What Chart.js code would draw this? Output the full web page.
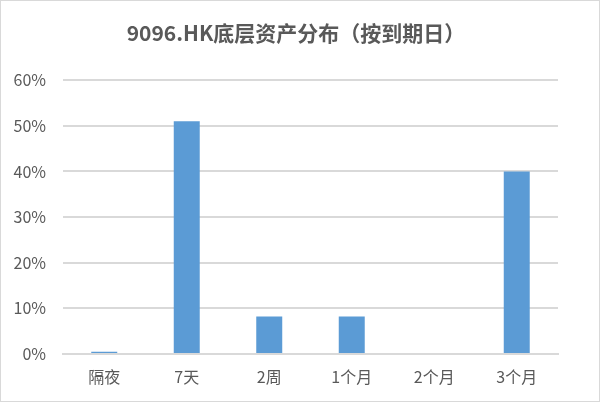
<!DOCTYPE html>
<html>
<head>
<meta charset="utf-8">
<script src="https://cdn.jsdelivr.net/npm/chart.js@4"></script>
<style>
  body { margin: 0; background: #fff; }
  #wrap { width: 600px; height: 402px; box-sizing: border-box; border: 1px solid #d9d9d9; }
</style>
</head>
<body>
<div id="wrap"><canvas id="mycanvas" width="598" height="400"></canvas></div>
<script>
var categories = ["隔夜", "7天", "2周", "1个月", "2个月", "3个月"];
var shares = [0.005, 0.51, 0.082, 0.082, 0, 0.40];
var yTicks = [0, 0.1, 0.2, 0.3, 0.4, 0.5, 0.6];

var font = "'Noto Sans CJK SC', 'Noto Sans', sans-serif";
Chart.defaults.font.family = font;
Chart.defaults.color = "#595959";

var chartdata = {
  labels: categories,
  datasets: [{
    label: "占比",
    backgroundColor: "#5b9bd5",
    borderWidth: 0,
    barPercentage: 0.315,
    categoryPercentage: 1,
    data: shares
  }]
};

var ctx = document.getElementById("mycanvas");
var barGraph = new Chart(ctx, {
  type: 'bar',
  data: chartdata,
  options: {
    responsive: false,
    animation: false,
    layout: { padding: { left: 0, right: 8, top: 0, bottom: 0 } },
    plugins: {
      legend: { display: false },
      tooltip: { enabled: false },
      title: {
        display: true,
        text: "9096.HK底层资产分布（按到期日）",
        color: "#595959",
        font: { size: 21, weight: 'bold' },
        padding: { top: 19, bottom: 35 }
      }
    },
    scales: {
      x: {
        grid: { display: false, drawTicks: false },
        border: { display: true, color: "#d9d9d9", width: 2 },
        ticks: { padding: 13, font: { size: 16 } },
        afterFit: function(axis) { axis.height = 47; }
      },
      y: {
        min: 0,
        max: 0.6,
        afterBuildTicks: function(axis) {
          axis.ticks = yTicks.map(function(v) { return { value: v }; });
        },
        grid: { color: "#d9d9d9", lineWidth: 2, drawTicks: false },
        border: { display: false },
        ticks: {
          padding: 17,
          font: { size: 16 },
          callback: function(v) { return Math.round(v * 100) + "%"; }
        },
        afterFit: function(axis) { axis.width = 62; }
      },
      yRight: {
        position: 'right',
        display: true,
        grid: { display: false, drawTicks: false },
        border: { display: false },
        ticks: { display: false },
        afterFit: function(axis) { axis.width = 33; }
      }
    }
  }
});
</script>
</body>
</html>
